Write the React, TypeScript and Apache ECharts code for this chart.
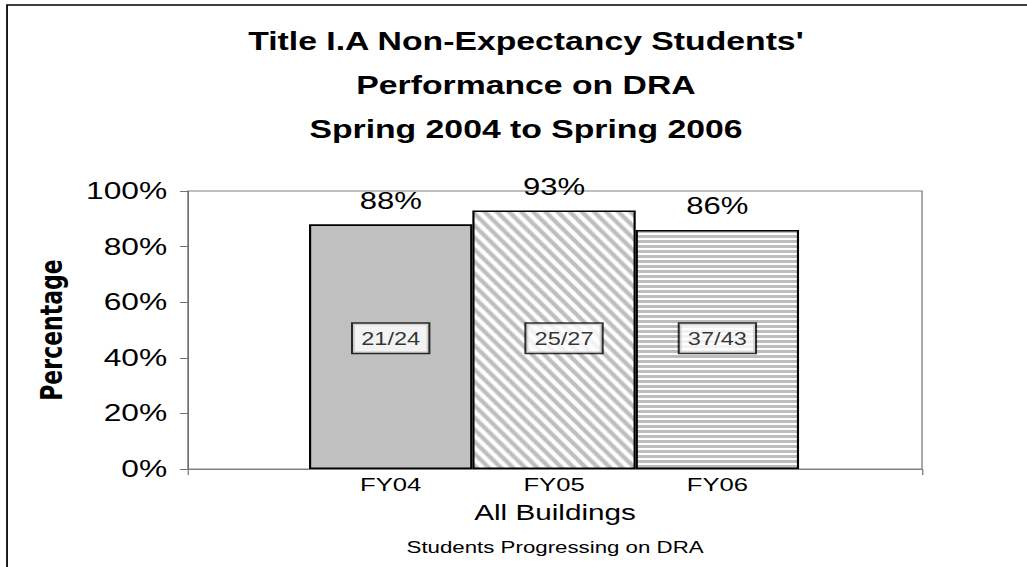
import React, { useEffect, useRef } from 'react';
import * as echarts from 'echarts';

// ---- data ----
const titleLines = ["Title I.A Non-Expectancy Students'", 'Performance on DRA', 'Spring 2004 to Spring 2006'];
const groupCategory = ['All Buildings'];
const years = ['FY04', 'FY05', 'FY06'];
const percents = [88, 93, 86];
const progressing = [21, 25, 37];
const totals = [24, 27, 43];
const yAxisName = 'Percentage';
const xAxisName = 'Students Progressing on DRA';
const yMin = 0;
const yMax = 100;
const yInterval = 20;

// ---- layout ----
const SCALE_X = 1.35;
const BASE_W = 761;
const H = 567;
const FONT = "'Liberation Sans', Arial, sans-serif";
const FONT_V = "'DejaVu Sans', 'Liberation Sans', Arial, sans-serif";

function makeDiagonal(): HTMLCanvasElement {
  const w = 9;
  const h = 12;
  const c = document.createElement('canvas');
  c.width = w;
  c.height = h;
  const ctx = c.getContext('2d')!;
  const img = ctx.createImageData(w, h);
  for (let y = 0; y < h; y++) {
    for (let x = 0; x < w; x++) {
      let cov = 0;
      for (let sy = 0; sy < 4; sy++) {
        for (let sx = 0; sx < 4; sx++) {
          const px = x + (sx + 0.5) / 4;
          const py = y + (sy + 0.5) / 4;
          const ph = (((px / w - py / h) % 1) + 1) % 1;
          if (ph < 0.5) cov++;
        }
      }
      cov /= 16;
      const v = Math.round(255 - (255 - 190) * cov);
      const k = (y * w + x) * 4;
      img.data[k] = v;
      img.data[k + 1] = v;
      img.data[k + 2] = v;
      img.data[k + 3] = 255;
    }
  }
  ctx.putImageData(img, 0, 0);
  return c;
}

function makeHorizontal(): HTMLCanvasElement {
  const w = 4;
  const h = 5;
  const c = document.createElement('canvas');
  c.width = w;
  c.height = h;
  const ctx = c.getContext('2d')!;
  ctx.fillStyle = '#ffffff';
  ctx.fillRect(0, 0, w, h);
  ctx.fillStyle = '#bdbdbd';
  ctx.fillRect(0, 0, w, 3);
  return c;
}

export default function App() {
  const ref = useRef<HTMLDivElement>(null);
  useEffect(() => {
    if (!ref.current) return;
    const chart = echarts.init(ref.current, null, { renderer: 'svg' });
    const fills: any[] = [
      '#c0c0c0',
      { image: makeDiagonal(), repeat: 'repeat' },
      { image: makeHorizontal(), repeat: 'repeat' },
    ];
    const option: any = {
      animation: false,
      backgroundColor: '#ffffff',
      title: {
        text: titleLines.join('\n'),
        left: 384.6,
        top: 14,
        padding: 5,
        textAlign: 'center',
        textStyle: { fontFamily: FONT, fontWeight: 'bold', fontSize: 25, lineHeight: 44, color: '#000' },
      },
      graphic: [
        {
          type: 'polyline',
          shape: { points: [[5.2, 700], [5.2, 5], [1000, 5]] },
          style: { stroke: '#000', lineWidth: 1.3, fill: null },
          silent: true,
        },
      ],
      grid: [
        { left: 139.3, width: 543.7, top: 191, height: 278, show: true, borderColor: '#808080', borderWidth: 1 },
        { left: 228.9, width: 363.0, top: 191, height: 278 },
      ],
      xAxis: [
        {
          type: 'category',
          gridIndex: 0,
          data: groupCategory,
          boundaryGap: true,
          axisLine: { lineStyle: { color: '#808080', width: 1 } },
          axisTick: { show: true, length: 6, lineStyle: { color: '#808080' } },
          axisLabel: { margin: 32, fontSize: 22, color: '#000', fontFamily: FONT },
          name: xAxisName,
          nameLocation: 'middle',
          nameGap: 70,
          nameTextStyle: { fontSize: 16.5, color: '#000', fontFamily: FONT },
        },
        {
          type: 'category',
          gridIndex: 1,
          data: years,
          boundaryGap: true,
          axisLine: { show: false },
          axisTick: { show: false },
          axisLabel: { margin: 6.5, fontSize: 19, color: '#000', fontFamily: FONT },
        },
      ],
      yAxis: [
        {
          type: 'value',
          gridIndex: 0,
          min: yMin,
          max: yMax,
          interval: yInterval,
          axisLine: { show: true, lineStyle: { color: '#707070', width: 1 } },
          axisTick: { show: true, length: 5.9, lineStyle: { color: '#707070' } },
          splitLine: { show: false },
          axisLabel: { formatter: '{value}%', margin: 15.5, fontSize: 23.5, color: '#000', fontFamily: FONT },
          name: yAxisName,
          nameLocation: 'middle',
          nameRotate: 90,
          nameGap: 90,
          nameTextStyle: { fontSize: 22, fontWeight: 'bold', color: '#000', fontFamily: FONT_V },
        },
        { type: 'value', gridIndex: 1, min: yMin, max: yMax, show: false },
      ],
      series: [
        {
          type: 'bar',
          xAxisIndex: 1,
          yAxisIndex: 1,
          barCategoryGap: '0%',
          data: percents.map((v, i) => ({ value: v, itemStyle: { color: fills[i] } })),
          itemStyle: { borderColor: '#000', borderWidth: 1.6 },
          label: {
            show: true,
            position: 'top',
            distance: 12,
            formatter: '{c}%',
            fontSize: 23,
            color: '#000',
            fontFamily: FONT,
          },
        },
        {
          type: 'scatter',
          xAxisIndex: 1,
          yAxisIndex: 1,
          symbolSize: 1,
          itemStyle: { color: 'transparent' },
          data: years.map((_, i) => ({
            value: [i, 47],
            label: {
              formatter: `${progressing[i]}/${totals[i]}`,
              offset: i === 1 ? [7.4, 0] : [0, 0],
            },
          })),
          label: {
            show: true,
            position: 'inside',
            fontSize: 17.5,
            color: '#000',
            fontFamily: FONT,
            backgroundColor: '#fff',
            borderColor: '#000',
            borderWidth: 1.5,
            padding: [6, 6, 5, 6],
          },
        },
      ],
    };
    chart.setOption(option);
    return () => chart.dispose();
  }, []);
  return (
    <div style={{ position: 'absolute', left: 0, top: 0, width: 1027, height: H, overflow: 'hidden', background: '#fff' }}>
      <div
        ref={ref}
        style={{ width: BASE_W, height: H, transform: `scaleX(${SCALE_X})`, transformOrigin: '0 0' }}
      />
    </div>
  );
}
